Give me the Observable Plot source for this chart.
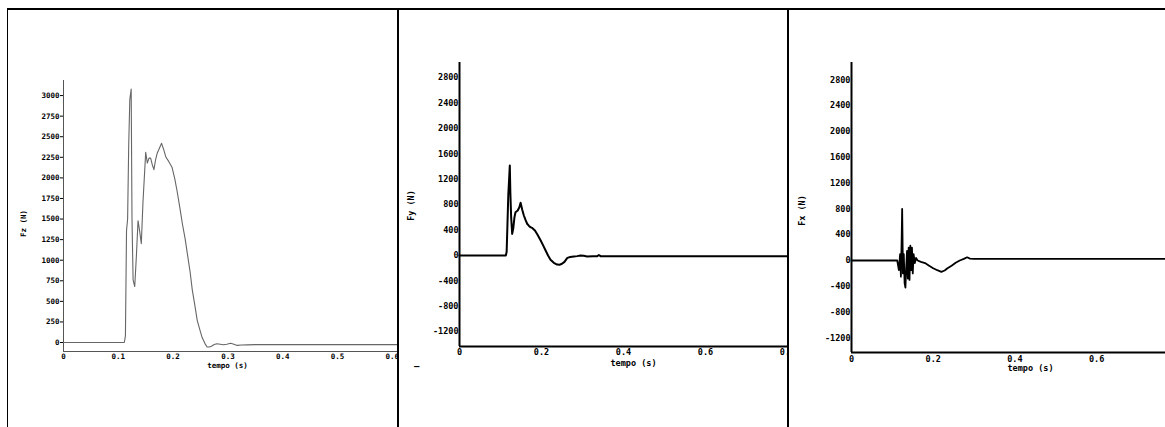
<!DOCTYPE html>
<html>
<head>
<meta charset="utf-8">
<script src="https://cdn.jsdelivr.net/npm/d3@7"></script>
<script src="https://cdn.jsdelivr.net/npm/@observablehq/plot@0.6"></script>
<style>
  html, body { margin: 0; padding: 0; background: #fff; }
  #page { position: relative; width: 1165px; height: 427px; overflow: hidden; background: #fff; }
  .panel { position: absolute; overflow: hidden; }
  .line { position: absolute; background: #000; }
  .dash { position: absolute; font: bold 9px "DejaVu Sans Mono", monospace; color: #000; }
</style>
</head>
<body>
<div id="page">
  <div class="panel" id="p1" style="left:8px;top:10px;width:389px;height:417px"></div>
  <div class="panel" id="p2" style="left:399px;top:10px;width:388px;height:417px"></div>
  <div class="panel" id="p3" style="left:789px;top:10px;width:376px;height:417px"></div>
  <div class="line" style="left:7px;top:8px;width:1158px;height:2px"></div>
  <div class="line" style="left:7px;top:8px;width:1px;height:419px"></div>
  <div class="line" style="left:397px;top:8px;width:2px;height:419px"></div>
  <div class="line" style="left:787px;top:8px;width:2px;height:419px"></div>
  <div class="dash" style="left:414px;top:361px">–</div>
</div>
<script>
// ---- Data ----
const fzTime  = [0, 0.05, 0.10, 0.111, 0.113, 0.115, 0.117, 0.119, 0.121, 0.1235, 0.125, 0.127, 0.130, 0.133, 0.136, 0.139, 0.142, 0.145, 0.150, 0.153, 0.156, 0.159, 0.162, 0.165, 0.168, 0.171, 0.175, 0.179, 0.183, 0.187, 0.192, 0.198, 0.203, 0.207, 0.212, 0.217, 0.222, 0.226, 0.231, 0.235, 0.240, 0.244, 0.249, 0.253, 0.258, 0.262, 0.266, 0.270, 0.275, 0.280, 0.286, 0.292, 0.298, 0.305, 0.311, 0.317, 0.325, 0.336, 0.35, 0.40, 0.50, 0.60, 0.62];
const fzValue = [0, 0, 0, 0, 80, 1360, 1500, 2400, 2950, 3080, 1500, 760, 680, 1050, 1480, 1350, 1200, 1700, 2310, 2180, 2240, 2240, 2160, 2100, 2220, 2300, 2360, 2420, 2340, 2250, 2200, 2130, 1990, 1850, 1650, 1440, 1260, 1080, 860, 640, 440, 270, 150, 60, -10, -55, -55, -45, -25, -15, -20, -28, -20, -8, -20, -35, -30, -28, -25, -25, -25, -25, -25];

const fyTime  = [0, 0.05, 0.10, 0.113, 0.115, 0.117, 0.119, 0.121, 0.1227, 0.124, 0.126, 0.1285, 0.131, 0.134, 0.1366, 0.142, 0.146, 0.149, 0.153, 0.157, 0.161, 0.165, 0.169, 0.173, 0.178, 0.184, 0.190, 0.198, 0.204, 0.210, 0.216, 0.222, 0.230, 0.238, 0.244, 0.250, 0.256, 0.263, 0.270, 0.279, 0.287, 0.295, 0.303, 0.311, 0.325, 0.336, 0.340, 0.344, 0.40, 0.50, 0.60, 0.70, 0.80];
const fyValue = [0, 0, 0, 0, 60, 500, 950, 1200, 1417, 1000, 600, 340, 420, 600, 682, 709, 760, 830, 720, 630, 560, 500, 470, 446, 430, 394, 330, 236, 160, 79, 0, -68, -115, -142, -145, -131, -100, -37, -25, -16, -10, 0, -5, -16, -10, -10, 8, -10, -12, -12, -12, -12, -12];

const fxTime  = [0, 0.05, 0.10, 0.112, 0.116, 0.119, 0.121, 0.123, 0.124, 0.126, 0.128, 0.130, 0.132, 0.134, 0.136, 0.138, 0.140, 0.142, 0.144, 0.146, 0.148, 0.150, 0.152, 0.155, 0.158, 0.162, 0.170, 0.180, 0.190, 0.200, 0.210, 0.220, 0.228, 0.235, 0.245, 0.255, 0.265, 0.275, 0.283, 0.290, 0.30, 0.40, 0.50, 0.60, 0.77];
const fxValue = [0, 0, 0, 0, -150, 100, -250, 400, 800, -200, 100, -350, -420, -100, 150, -280, 200, -300, 230, -150, 200, -200, 100, -40, 40, 0, -20, -40, -80, -120, -150, -175, -155, -120, -80, -35, 0, 25, 50, 30, 25, 25, 25, 25, 25];

const yTicksFz = [0, 250, 500, 750, 1000, 1250, 1500, 1750, 2000, 2250, 2500, 2750, 3000];
const xTicksFz = [0, 0.1, 0.2, 0.3, 0.4, 0.5, 0.6];
const yTicksF  = [-1200, -800, -400, 0, 400, 800, 1200, 1600, 2000, 2400, 2800];
const xTicksFy = [0, 0.2, 0.4, 0.6, 0.8];
const xTicksFx = [0, 0.2, 0.4, 0.6];

const xLabel = "tempo (s)";
const yLabels = ["Fz (N)", "Fy (N)", "Fx (N)"];

function rows(t, v) { return t.map((d, i) => ({t: d, v: v[i]})); }

function panel(cfg) {
  const data = rows(cfg.time, cfg.value);
  const fmtX = d => d === 0 ? "0" : String(d);
  return Plot.plot({
    width: cfg.width,
    height: 417,
    marginLeft: cfg.ml,
    marginRight: 0,
    marginTop: cfg.mt,
    marginBottom: cfg.mb,
    style: {fontFamily: "DejaVu Sans Mono, monospace", fontSize: cfg.fs + "px", fontWeight: "bold", color: "#000", background: "transparent", overflow: "visible"},
    x: {domain: cfg.xDomain, ticks: cfg.xTicks, tickFormat: fmtX, tickSize: 0, tickPadding: cfg.xPad, label: null},
    y: {domain: cfg.yDomain, ticks: cfg.yTicks, tickFormat: d => d < 0 ? "-" + Math.abs(d) : String(d), tickSize: cfg.yTick, tickPadding: 1, label: null},
    marks: [
      Plot.ruleX([cfg.xDomain[0]], {stroke: cfg.axisColor, strokeWidth: cfg.axisW}),
      Plot.ruleY([cfg.yDomain[0]], {stroke: cfg.axisColor, strokeWidth: cfg.axisW}),
      Plot.line(data, {x: "t", y: "v", stroke: cfg.color, strokeWidth: cfg.lw, curve: "linear"}),
      Plot.text([xLabel], {frameAnchor: "bottom", dx: cfg.xlDx, dy: cfg.xlDy, lineAnchor: "middle", fontSize: cfg.fs, fontWeight: "bold", fill: "#000"}),
      Plot.text([cfg.yLabel], {frameAnchor: "left", rotate: -90, dx: cfg.ylDx, dy: cfg.ylDy, lineAnchor: "middle", textAnchor: "middle", fontSize: cfg.fs, fontWeight: "bold", fill: "#000"})
    ]
  });
}

document.getElementById("p1").appendChild(panel({
  time: fzTime, value: fzValue, width: 389, ml: 55, mt: 70, mb: 76,
  xDomain: [0, 0.6095], yDomain: [-109, 3183], xTicks: xTicksFz, yTicks: yTicksFz,
  xPad: 2, yTick: 3, fs: 7.5, axisColor: "#555", axisW: 1, color: "#666", lw: 1.1,
  xlDx: -3, xlDy: 14, ylDx: -40, ylDy: 7.5, yLabel: yLabels[0]
}));

document.getElementById("p2").appendChild(panel({
  time: fyTime, value: fyValue, width: 388, ml: 60, mt: 52, mb: 81,
  xDomain: [0, 0.8], yDomain: [-1433, 3039], xTicks: xTicksFy, yTicks: yTicksF,
  xPad: 2, yTick: 0, fs: 8.5, axisColor: "#000", axisW: 2, color: "#000", lw: 2,
  xlDx: 10, xlDy: 17, ylDx: -48, ylDy: 1, yLabel: yLabels[1]
}));

document.getElementById("p3").appendChild(panel({
  time: fxTime, value: fxValue, width: 376, ml: 62, mt: 52, mb: 75,
  xDomain: [0, 0.7687], yDomain: [-1426, 3070], xTicks: xTicksFx, yTicks: yTicksF,
  xPad: 3, yTick: 0, fs: 8.5, axisColor: "#000", axisW: 2, color: "#000", lw: 1.8,
  xlDx: 22, xlDy: 16, ylDx: -49, ylDy: 3, yLabel: yLabels[2]
}));
</script>
</body>
</html>
